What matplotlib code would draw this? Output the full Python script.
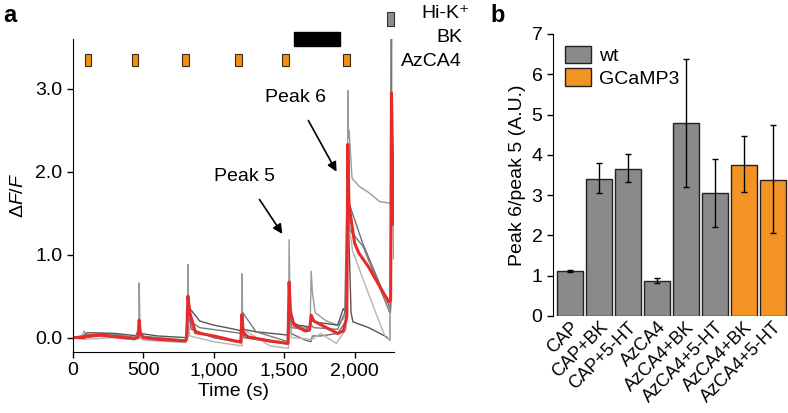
import matplotlib
matplotlib.use("Agg")
import matplotlib.pyplot as plt
from matplotlib.patches import Rectangle
from matplotlib.ticker import FuncFormatter

plt.rcParams["font.family"] = ["Liberation Sans", "DejaVu Sans"]
plt.rcParams["mathtext.fontset"] = "custom"
plt.rcParams["mathtext.rm"] = "Liberation Sans"
plt.rcParams["mathtext.it"] = "Liberation Sans:italic"
plt.rcParams["font.size"] = 14

# ---- panel a: calcium traces (time in s, dF/F) ----
red_t = [0, 80, 100, 200, 350, 440, 462, 470, 478, 500, 600, 800, 808, 816, 830, 870,
         1000, 1150, 1192, 1200, 1210, 1240, 1400, 1527, 1535, 1545, 1570, 1650, 1680,
         1692, 1710, 1800, 1880, 1920, 1945, 1952, 1960, 1976, 2000, 2030, 2100, 2201,
         2244, 2256, 2262, 2277]
red_v = [0.0, 0.0, 0.02, 0.03, 0.0, -0.01, 0.0, 0.21, 0.05, 0.0, -0.02, -0.04, 0.0,
         0.50, 0.3, 0.06, 0.02, -0.04, -0.05, 0.28, 0.05, 0.01, -0.04, -0.07, 0.67, 0.3,
         0.15, 0.08, 0.09, 0.27, 0.2, 0.12, 0.05, 0.08, 0.25, 2.33, 1.6, 1.42, 1.14,
         1.02, 0.85, 0.55, 0.43, 0.45, 2.95, 1.37]

gray_traces = [
    ("#9a9a9a",
     [0, 60, 80, 90, 200, 300, 440, 466, 470, 476, 500, 600, 800, 812, 816, 822, 850,
      1000, 1150, 1196, 1200, 1206, 1250, 1400, 1530, 1535, 1542, 1570, 1650, 1684,
      1692, 1700, 1720, 1800, 1880, 1930, 1948, 1952, 1957, 1961, 1982, 2035, 2100,
      2178, 2250, 2256, 2260, 2270, 2277],
     [0.0, 0.0, 0.08, 0.03, 0.05, 0.04, 0.0, 0.0, 0.66, 0.1, 0.0, -0.02, -0.05, -0.02,
      0.88, 0.3, 0.1, 0.0, -0.05, -0.07, 0.77, 0.1, 0.0, -0.05, -0.08, 1.18, 0.4, 0.15,
      0.12, 0.12, 0.80, 0.55, 0.3, 0.2, 0.15, 0.25, 0.6, 2.98, 2.4, 2.5, 1.92, 1.82,
      1.75, 1.64, 1.62, 1.64, 3.7, 2.0, 0.95]),
    ("#555555",
     [0, 80, 100, 300, 460, 470, 480, 600, 800, 812, 816, 830, 900, 1000, 1150, 1196,
      1200, 1210, 1300, 1530, 1535, 1545, 1600, 1680, 1692, 1700, 1750, 1880, 1900,
      1920, 1940, 1952, 1960, 1975, 1988, 2100, 2226, 2250, 2256, 2262],
     [0.0, 0.02, 0.06, 0.05, 0.02, 0.15, 0.05, 0.02, 0.0, 0.05, 0.45, 0.35, 0.2, 0.15,
      0.1, 0.08, 0.25, 0.1, 0.07, 0.03, 0.5, 0.2, 0.15, 0.13, 0.2, 0.2, 0.18, 0.15, 0.25,
      0.35, 0.3, 2.0, 1.2, 0.3, 0.19, 0.12, 0.01, -0.03, 0.5, 3.7]),
    ("#6e6e6e",
     [0, 80, 200, 440, 468, 472, 490, 600, 800, 814, 818, 840, 1000, 1195, 1200, 1212,
      1400, 1530, 1535, 1548, 1650, 1690, 1700, 1760, 1880, 1940, 1952, 1965, 2057,
      2250, 2256, 2262],
     [0.0, 0.0, 0.02, -0.02, 0.0, 0.15, 0.0, -0.03, -0.05, 0.0, 0.35, 0.1, 0.0, -0.06,
      0.2, 0.0, -0.05, -0.07, 0.55, 0.05, -0.03, -0.05, 0.02, 0.02, 0.05, 0.2, 1.9, 1.6,
      1.14, 0.36, 0.4, 3.7]),
    ("#b4b4b4",
     [0, 80, 300, 440, 470, 475, 500, 800, 816, 830, 1000, 1200, 1206, 1400, 1530, 1535,
      1550, 1700, 1760, 1870, 1940, 1952, 1985, 2050, 2150, 2220, 2250, 2256, 2262],
     [0.0, -0.02, 0.0, -0.03, 0.1, 0.0, -0.03, -0.06, 0.3, 0.02, -0.05, -0.1, 0.1, -0.1,
      -0.13, 0.4, 0.0, -0.02, 0.05, -0.07, 0.1, 1.5, 1.05, 0.75, 0.3, 0.0, -0.02, 0.4,
      3.7]),
    ("#7a7a7a",
     [0, 80, 300, 440, 470, 480, 800, 816, 830, 900, 1200, 1206, 1300, 1530, 1535, 1550,
      1650, 1692, 1710, 1880, 1930, 1952, 1965, 2060, 2250, 2256, 2262],
     [0.0, 0.03, 0.03, 0.0, 0.12, 0.02, -0.03, 0.4, 0.2, 0.12, 0.05, 0.3, 0.07, -0.05,
      0.6, 0.12, 0.1, 0.15, 0.12, 0.1, 0.3, 2.2, 1.3, 1.1, 0.3, 0.35, 3.7]),
]

azca4_times = [107, 441, 797, 1174, 1509, 1943]
bk_window = (1573, 1893)
hik_time = 2256

# ---- panel b: peak ratio bars ----
conditions = ["CAP", "CAP+BK", "CAP+5-HT", "AzCA4", "AzCA4+BK", "AzCA4+5-HT",
              "AzCA4+BK", "AzCA4+5-HT"]
ratios = [1.11, 3.41, 3.65, 0.87, 4.78, 3.05, 3.76, 3.38]
err_lo = [0.03, 0.36, 0.33, 0.06, 1.59, 0.84, 0.69, 1.32]
err_hi = [0.03, 0.38, 0.37, 0.08, 1.61, 0.85, 0.71, 1.35]
genotype = ["wt", "wt", "wt", "wt", "wt", "wt", "GCaMP3", "GCaMP3"]

GRAY = "#8a8a8a"
ORANGE = "#f39324"
RED = "#e62b2b"

W, H = 788, 413
fig = plt.figure(figsize=(W / 100, H / 100), dpi=100)

# panel a
ax = fig.add_axes([73 / W, 1 - 351.7 / H, (394 - 73) / W, (351.7 - 39) / H])
for col, t, v in gray_traces:
    ax.plot(t, v, color=col, lw=1.0)
ax.plot(red_t, red_v, color=RED, lw=2.2)

ax.set_xlim(0, 2280)
ax.set_ylim(-0.17, 3.6)
ax.set_xticks([0, 500, 1000, 1500, 2000])
ax.xaxis.set_major_formatter(FuncFormatter(lambda x, p: f"{int(x):,}"))
ax.set_yticks([0, 1, 2, 3])
ax.set_yticklabels(["0.0", "1.0", "2.0", "3.0"])
ax.spines["top"].set_visible(False)
ax.spines["right"].set_visible(False)
ax.tick_params(direction="out", length=4, width=1)
ax.set_xlabel("Time (s)", labelpad=3)
ax.set_ylabel(r"$\Delta F/F$", labelpad=6)

for t in azca4_times:
    ax.add_patch(Rectangle((t - 24, 3.28), 48, 0.145, facecolor="#f29111",
                           edgecolor="#3a2a10", lw=0.8))
ax.add_patch(Rectangle((bk_window[0], 3.51), bk_window[1] - bk_window[0], 0.17,
                       facecolor="black", edgecolor="black", clip_on=False))
ax.add_patch(Rectangle((hik_time - 24, 3.76), 48, 0.17, facecolor="#8c8c8c",
                       edgecolor="#333333", lw=0.8, clip_on=False))

ax.annotate("Peak 5", xy=(1487, 1.25), xytext=(1217, 1.94), ha="center", va="center",
            arrowprops=dict(arrowstyle="-|>", color="black", lw=1.2, mutation_scale=14,
                            shrinkA=10, shrinkB=0))
ax.annotate("Peak 6", xy=(1872, 2.0), xytext=(1580, 2.9), ha="center", va="center",
            arrowprops=dict(arrowstyle="-|>", color="black", lw=1.2, mutation_scale=14,
                            shrinkA=10, shrinkB=0))

fig.text(470 / W, 1 - 14 / H, "Hi-K⁺", ha="right", va="center")
fig.text(462 / W, 1 - 38 / H, "BK", ha="right", va="center")
fig.text(462 / W, 1 - 61 / H, "AzCA4", ha="right", va="center")
fig.text(3 / W, 1 - 15 / H, "a", fontsize=17, fontweight="bold", va="center")
fig.text(490 / W, 1 - 15 / H, "b", fontsize=17, fontweight="bold", va="center")

# panel b
bx = fig.add_axes([553 / W, 1 - 316 / H, (788 - 553) / W, (316 - 34) / H])
xpos = list(range(len(conditions)))
colors = [GRAY if g == "wt" else ORANGE for g in genotype]
bx.bar(xpos, ratios, width=0.9, color=colors, edgecolor="#222222", lw=1.0,
       yerr=[err_lo, err_hi], error_kw=dict(ecolor="black", elinewidth=1.0,
                                            capsize=2, capthick=1.0))
bx.set_xlim(-0.586, 7.52)
bx.set_ylim(0, 7)
bx.set_yticks(range(8))
bx.set_xticks(xpos)
bx.set_xticklabels(conditions, rotation=45, ha="right", rotation_mode="anchor",
                   fontsize=13)
bx.tick_params(axis="x", length=0, pad=2)
bx.tick_params(axis="y", direction="out", length=4, width=1)
for s in ["top", "right", "bottom"]:
    bx.spines[s].set_visible(False)
bx.set_ylabel("Peak 6/peak 5 (A.U.)", labelpad=4)

handles = [Rectangle((0, 0), 1, 1, facecolor=GRAY, edgecolor="#222222", lw=1.0),
           Rectangle((0, 0), 1, 1, facecolor=ORANGE, edgecolor="#222222", lw=1.0)]
bx.legend(handles, ["wt", "GCaMP3"], loc="upper left", bbox_to_anchor=(0.02, 0.985),
          frameon=False, handlelength=1.3, handleheight=1.0, handletextpad=0.4,
          labelspacing=0.15, borderaxespad=0)

fig.savefig("out.png", dpi=100)
